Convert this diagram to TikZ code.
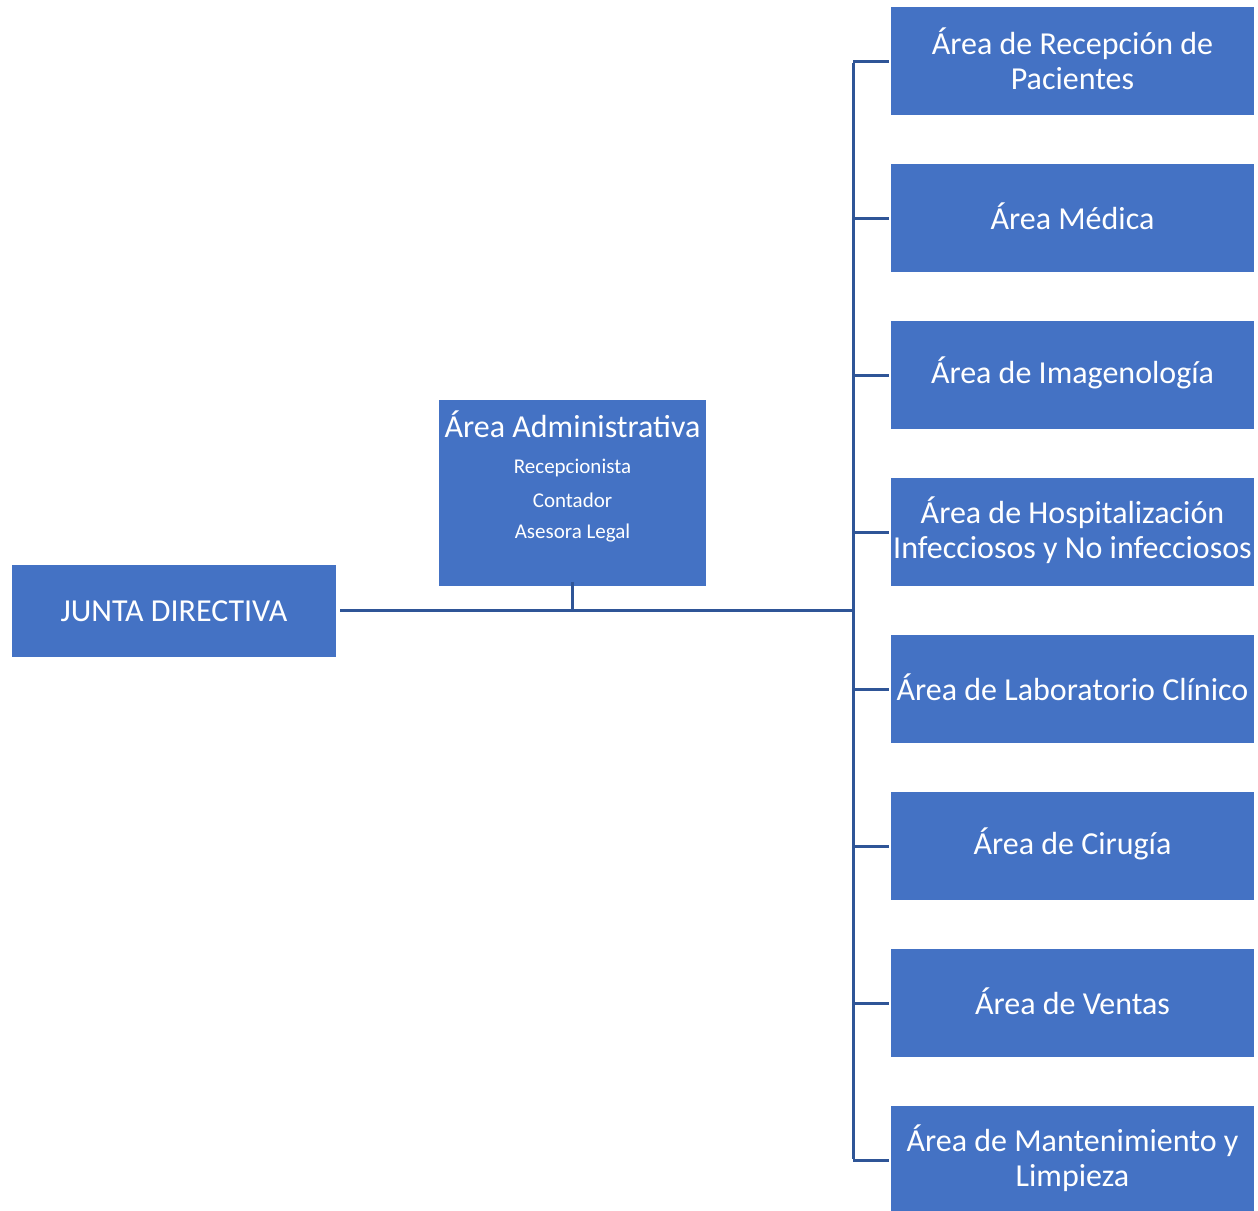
\documentclass[tikz,border=0pt]{standalone}
\usepackage{fontspec}
\setmainfont{Carlito}
\definecolor{boxfill}{HTML}{4472C4}
\definecolor{linecol}{HTML}{2F5597}
\begin{document}
\begin{tikzpicture}[x=1pt,y=-1pt,
  box/.style={fill=boxfill,draw=none,text=white,align=center,inner sep=0pt},
  rbox/.style={box,minimum width=363pt,minimum height=108pt},
  rtext/.style={text=white,align=center,inner sep=0pt,font=\fontsize{32}{35}\selectfont},
  conn/.style={draw=linecol,line width=3pt}]
\useasboundingbox (0,0) rectangle (1258,1210);
\node[box,minimum width=324pt,minimum height=92pt,font=\fontsize{32}{35}\selectfont] (junta) at (174,611) {JUNTA DIRECTIVA};
\node[box,minimum width=267pt,minimum height=186pt,anchor=north] (admin) at (572.5,400) {};
\node[text=white,font=\fontsize{32}{35}\selectfont] (admint) at (572.5,424) {Área Administrativa};
\node[text=white,font=\fontsize{21}{24}\selectfont] (s1) at (572.5,468) {Recepcionista};
\node[text=white,font=\fontsize{21}{24}\selectfont] (s2) at (572.5,500) {Contador};
\node[text=white,font=\fontsize{21}{24}\selectfont] (s3) at (572.5,533) {Asesora Legal};
\node[rbox] (r1) at (1072.5,61) {};
\node[rbox] (r2) at (1072.5,218) {};
\node[rbox] (r3) at (1072.5,375) {};
\node[rbox] (r4) at (1072.5,532) {};
\node[rbox] (r5) at (1072.5,689) {};
\node[rbox] (r6) at (1072.5,846) {};
\node[rbox] (r7) at (1072.5,1003) {};
\node[rbox] (r8) at (1072.5,1160) {};
\node[rtext] (t1) at ([yshift=2pt]r1.center) {Área de Recepción de\\Pacientes};
\node[rtext] (t2) at ([yshift=2pt]r2.center) {Área Médica};
\node[rtext] (t3) at ([yshift=2pt]r3.center) {Área de Imagenología};
\node[rtext] (t4) at ([yshift=2pt]r4.center) {Área de Hospitalización\\Infecciosos y No infecciosos};
\node[rtext] (t5) at ([yshift=2pt]r5.center) {Área de Laboratorio Clínico};
\node[rtext] (t6) at ([yshift=2pt]r6.center) {Área de Cirugía};
\node[rtext] (t7) at ([yshift=2pt]r7.center) {Área de Ventas};
\node[rtext] (t8) at ([yshift=2pt]r8.center) {Área de Mantenimiento y\\Limpieza};
\coordinate (hub) at (853,610);
\coordinate (top) at (853,61);
\coordinate (bot) at (853,1160);
\draw[conn] ([xshift=4pt]junta.east |- hub) -- (hub);
\draw[conn,line width=2.5pt] ([yshift=4pt]admin.south) -- (admin.south |- hub);
\draw[conn] ([yshift=-1.5pt]top) -- ([yshift=1.5pt]bot);
\foreach \i in {1,...,8} {\draw[conn] (853,0 |- r\i.west) -- ([xshift=-2pt]r\i.west);}
\end{tikzpicture}
\end{document}
